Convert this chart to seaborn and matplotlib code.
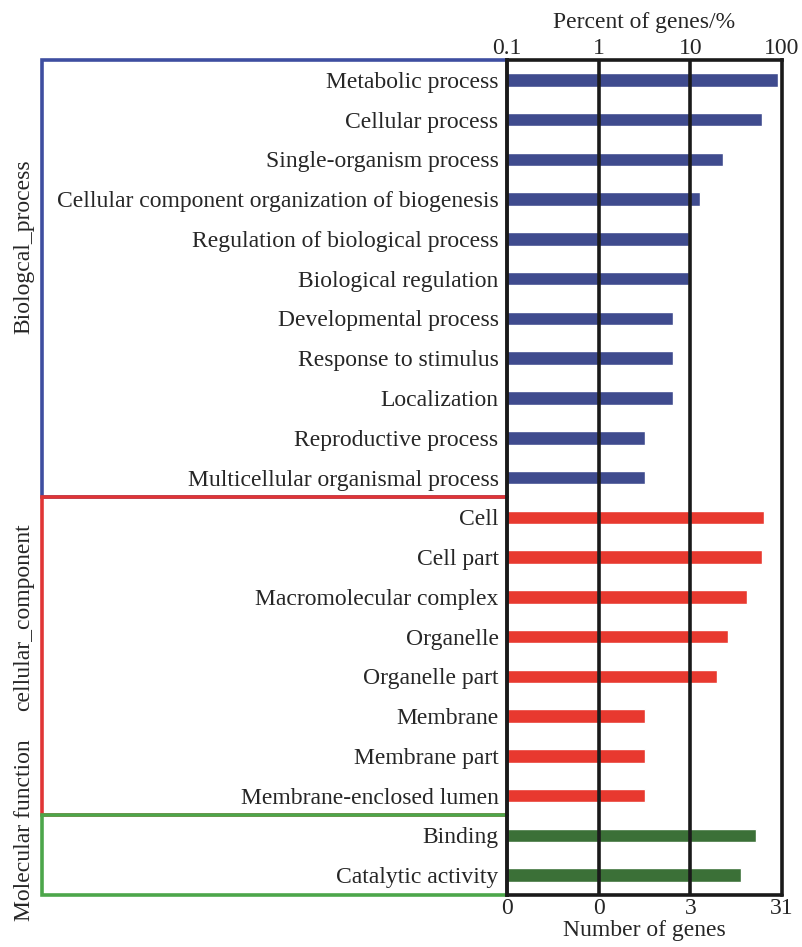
import matplotlib
matplotlib.use("Agg")
import matplotlib.pyplot as plt
import seaborn as sns
import pandas as pd

categories = [
    "Metabolic process", "Cellular process", "Single-organism process",
    "Cellular component organization of biogenesis", "Regulation of biological process",
    "Biological regulation", "Developmental process", "Response to stimulus",
    "Localization", "Reproductive process", "Multicellular organismal process",
    "Cell", "Cell part", "Macromolecular complex", "Organelle", "Organelle part",
    "Membrane", "Membrane part", "Membrane-enclosed lumen",
    "Binding", "Catalytic activity",
]
groups = ["Biologcal_process"] * 11 + ["cellular_component"] * 8 + ["Molecular function"] * 2
percent = [90.3, 61.3, 22.6, 12.9, 9.7, 9.7, 6.5, 6.5, 6.5, 3.2, 3.2,
           64.5, 61.3, 41.9, 25.8, 19.4, 3.2, 3.2, 3.2,
           51.6, 35.5]
top_ticks = [0.1, 1, 10, 100]
top_labels = ["0.1", "1", "10", "100"]
bottom_labels = ["0", "0", "3", "31"]

bar_colors = {"Biologcal_process": "#3f4b8e", "cellular_component": "#e8392f",
              "Molecular function": "#3b7037"}
box_colors = {"Biologcal_process": "#3e4ea0", "cellular_component": "#e03535",
              "Molecular function": "#4ca64a"}

df = pd.DataFrame({"cat": categories, "group": groups, "pct": percent})

sns.set_style("white")
plt.rcParams["font.family"] = ["Liberation Serif", "DejaVu Serif"]
FS = 17

fig = plt.figure(figsize=(8.02, 9.47), dpi=100)
ax = fig.add_axes([0.632, 0.0549, 0.343, 0.8817])
ax.set_xscale("log")
sns.barplot(data=df, y="cat", x="pct", hue="group", palette=bar_colors,
            orient="h", width=0.34, dodge=False, legend=False, ax=ax,
            saturation=1)
ax.set_xlim(0.1, 100)
ax.set_ylim(20.5, -0.5)
ax.set_xticks(top_ticks)
ax.set_xticklabels(bottom_labels, fontsize=FS)
ax.minorticks_off()
ax.tick_params(axis="x", length=0, pad=2)
ax.tick_params(axis="y", length=0, pad=6, labelsize=FS)
ax.set_ylabel("")
ax.set_xlabel("Number of genes", fontsize=FS, labelpad=1)
for v in [1, 10]:
    ax.axvline(v, color="#1a1a1a", lw=2.6, zorder=5)
for s in ["top", "bottom"]:
    ax.spines[s].set_visible(False)
ax.spines["left"].set_color("#1a1a1a")
ax.spines["left"].set_linewidth(2.8)
ax.spines["left"].set_zorder(6)
ax.spines["right"].set_color("#1a1a1a")
ax.spines["right"].set_linewidth(2.6)

sec = ax.secondary_xaxis("top")
sec.set_xticks(top_ticks)
sec.set_xticklabels(top_labels, fontsize=FS)
sec.minorticks_off()
sec.tick_params(length=0, pad=1)
sec.spines["top"].set_color("#1a1a1a")
sec.spines["top"].set_linewidth(2.6)
sec.set_xlabel("Percent of genes/%", fontsize=FS, labelpad=7)

# black bottom line
ax.axhline(20.5, color="#1a1a1a", lw=2.6, clip_on=False)

# group boxes
tr = ax.get_yaxis_transform()
xl = -1.691
boxes = [("Biologcal_process", -0.5, 10.5), ("cellular_component", 10.5, 18.5),
         ("Molecular function", 18.5, 20.5)]
for g, y0, y1 in boxes:
    c = box_colors[g]
    ax.plot([0, xl, xl, 0], [y0, y0, y1, y1], color=c, lw=2.6, transform=tr,
            clip_on=False, solid_joinstyle="miter")

fig.text(0.030, 1 - 247 / 947, "Biologcal_process", rotation=90, ha="center",
         va="center", fontsize=FS)
fig.text(0.030, 1 - 617 / 947, "cellular_component", rotation=90, ha="center",
         va="center", fontsize=FS)
fig.text(0.030, 1 - 830 / 947, "Molecular function", rotation=90, ha="center",
         va="center", fontsize=FS)

fig.savefig("out.png", dpi=100)
